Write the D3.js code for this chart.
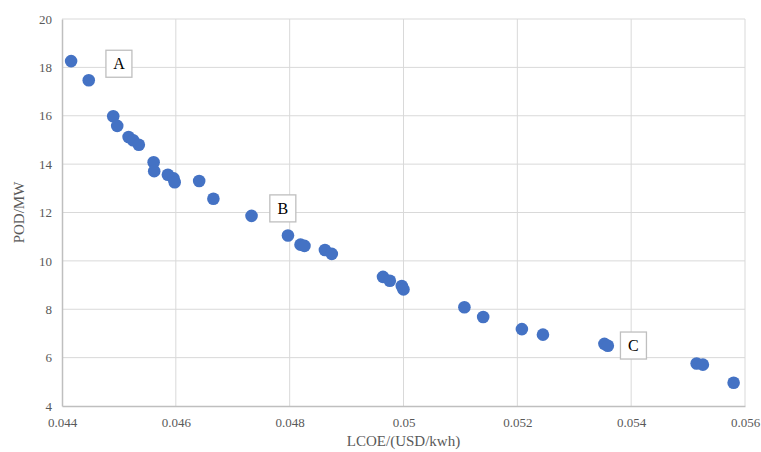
<!doctype html>
<html>
  <head>
    <script src="https://d3js.org/d3.v7.min.js"></script>
    <style>
      body { margin: 0; background: white; }
      text { font-family: "Liberation Serif", "Times New Roman", serif; }
    </style>
  </head>
  <body>
    <svg class="chart" width="761" height="452"></svg>
    <script>
      // LCOE (USD/kWh) vs POD (MW)
      var lcoe = [0.04416, 0.04447, 0.04490, 0.04497, 0.04517, 0.04525, 0.04535, 0.04561, 0.04562,
                  0.04586, 0.04596, 0.04598, 0.04641, 0.04666, 0.04733, 0.04797, 0.04819, 0.04826,
                  0.04862, 0.04874, 0.04964, 0.04976, 0.04997, 0.05000, 0.05107, 0.05140, 0.05208,
                  0.05245, 0.05353, 0.05359, 0.05515, 0.05526, 0.05580];
      var pod = [18.26, 17.47, 15.98, 15.58, 15.12, 14.99, 14.80, 14.08, 13.71,
                 13.56, 13.41, 13.25, 13.30, 12.57, 11.86, 11.05, 10.67, 10.62,
                 10.45, 10.29, 9.34, 9.18, 8.96, 8.82, 8.08, 7.68, 7.18,
                 6.95, 6.57, 6.49, 5.76, 5.71, 4.96];

      var xTicks = [0.044, 0.046, 0.048, 0.05, 0.052, 0.054, 0.056];
      var yTicks = [4, 6, 8, 10, 12, 14, 16, 18, 20];

      // text labels, placed in data units
      var labelNames = ["A", "B", "C"];
      var labelX = [0.04500, 0.04788, 0.05404];
      var labelY = [18.15, 12.17, 6.50];

      var plotLeft = 62, plotRight = 745, plotTop = 19, plotBottom = 406;
      var serif = '"Liberation Serif", "Times New Roman", serif';

      var x = d3.scaleLinear().domain([0.044, 0.056]).range([plotLeft, plotRight]);
      var y = d3.scaleLinear().domain([4, 20]).range([plotBottom, plotTop]);

      var svg = d3.select("svg");

      // gridlines
      svg.append("g")
        .selectAll("line")
        .data(xTicks.slice(1))
        .enter().append("line")
          .attr("x1", function(d){ return x(d); })
          .attr("x2", function(d){ return x(d); })
          .attr("y1", plotTop)
          .attr("y2", plotBottom)
          .attr("stroke", "#d9d9d9")
          .attr("stroke-width", 1);

      svg.append("g")
        .selectAll("line")
        .data(yTicks.slice(1))
        .enter().append("line")
          .attr("x1", plotLeft)
          .attr("x2", plotRight)
          .attr("y1", function(d){ return y(d); })
          .attr("y2", function(d){ return y(d); })
          .attr("stroke", "#d9d9d9")
          .attr("stroke-width", 1);

      // axes
      var xAxis = svg.append("g")
        .attr("transform", "translate(0," + plotBottom + ")")
        .call(d3.axisBottom(x).tickValues(xTicks).tickSize(0).tickPadding(12)
          .tickFormat(function(d){ return +d.toFixed(3); }))
        .attr("font-family", serif)
        .attr("font-size", 13);
      xAxis.select(".domain").attr("stroke", "#bfbfbf").attr("stroke-width", 1.5);
      xAxis.selectAll("text").attr("fill", "#595959");

      var yAxis = svg.append("g")
        .attr("transform", "translate(" + plotLeft + ",0)")
        .call(d3.axisLeft(y).tickValues(yTicks).tickSize(0).tickPadding(10))
        .attr("font-family", serif)
        .attr("font-size", 13);
      yAxis.select(".domain").attr("stroke", "#bfbfbf").attr("stroke-width", 1.5);
      yAxis.selectAll("text").attr("fill", "#595959");

      // points
      svg.append("g")
        .selectAll("circle")
        .data(lcoe)
        .enter().append("circle")
          .attr("cx", function(d){ return x(d); })
          .attr("cy", function(d, i){ return y(pod[i]); })
          .attr("r", 6.3)
          .attr("fill", "#4472c4");

      // boxed labels
      var lab = svg.append("g")
        .selectAll("g")
        .data(labelNames)
        .enter().append("g")
          .attr("transform", function(d, i){ return "translate(" + x(labelX[i]) + "," + y(labelY[i]) + ")"; });
      lab.append("rect")
        .attr("x", -13).attr("y", -13.5)
        .attr("width", 26).attr("height", 27)
        .attr("fill", "white")
        .attr("stroke", "#bfbfbf")
        .attr("stroke-width", 1.3);
      lab.append("text")
        .attr("text-anchor", "middle")
        .attr("dy", "0.35em")
        .style("font-size", "16px")
        .attr("fill", "#000")
        .text(function(d){ return d; });

      // axis titles
      svg.append("text")
        .attr("x", (plotLeft + plotRight) / 2)
        .attr("y", 446)
        .attr("text-anchor", "middle")
        .attr("fill", "#595959")
        .style("font-size", "15px")
        .text("LCOE/(USD/kwh)");

      svg.append("text")
        .attr("transform", "translate(24," + ((plotTop + plotBottom) / 2) + ") rotate(-90)")
        .attr("text-anchor", "middle")
        .attr("fill", "#595959")
        .style("font-size", "15px")
        .text("POD/MW");
    </script>
  </body>
</html>
